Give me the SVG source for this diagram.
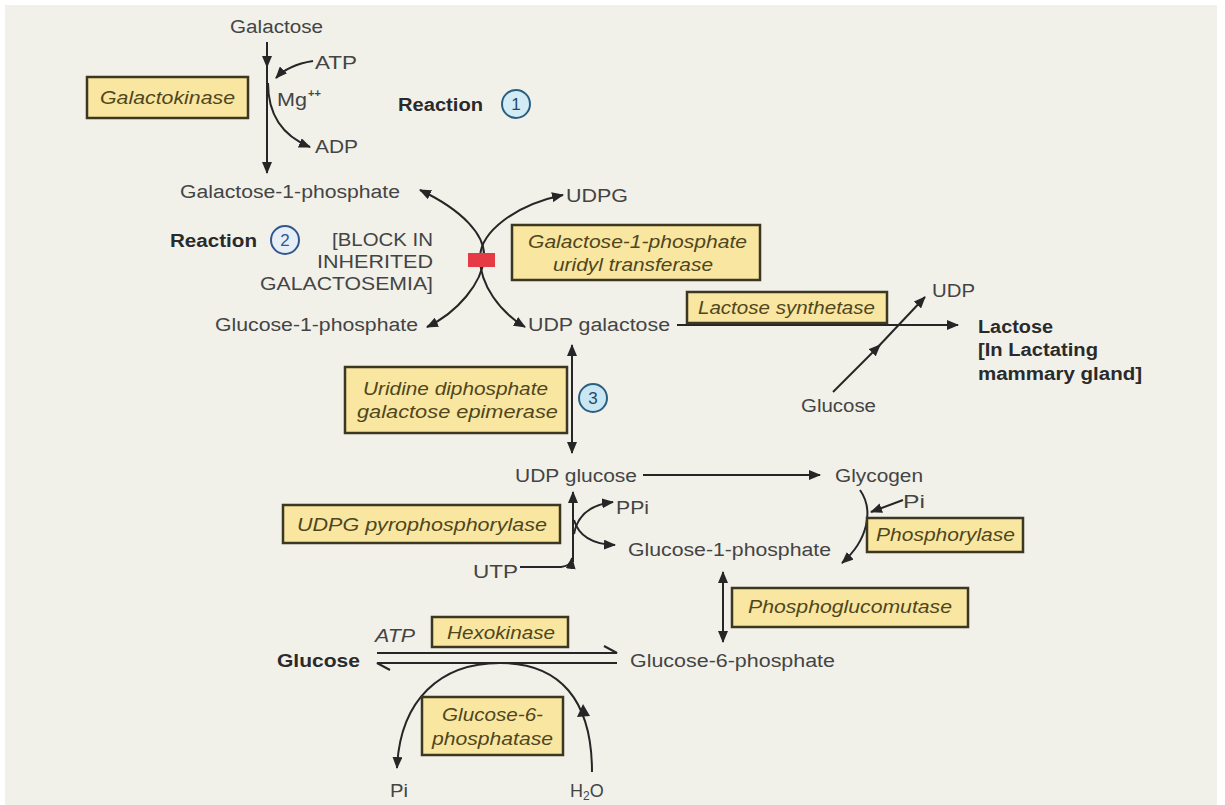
<svg xmlns="http://www.w3.org/2000/svg" width="1225" height="805" viewBox="0 0 1225 805">
<defs>
<style>
.t{font-family:"Liberation Sans",Arial,sans-serif;font-size:18px;fill:#444444}
.b{font-weight:bold;fill:#2a2a2a}
.e{font-style:italic;fill:#4f4620;font-size:18px}
.box{fill:#f9e6a0;stroke:#3c3720;stroke-width:2.5}
.ln{fill:none;stroke:#262626;stroke-width:2}
.c{stroke-width:2}
.n{font-family:"Liberation Sans",Arial,sans-serif;font-size:17px;fill:#1f4a66;text-anchor:middle}
</style>
<marker id="ah" viewBox="0 0 12 10" refX="11" refY="5" markerWidth="12" markerHeight="10" markerUnits="userSpaceOnUse" orient="auto-start-reverse">
<path d="M0,0 L12,5 L0,10 z" fill="#262626"/>
</marker>
</defs>
<rect x="0" y="0" width="1225" height="805" fill="#ffffff"/>
<rect x="5" y="5" width="1212" height="800" fill="#f1f1ea"/>

<g id="connectors">
<path class="ln" d="M267 42 L267 67" marker-end="url(#ah)"/>
<path class="ln" d="M267 62 L267 173" marker-end="url(#ah)"/>
<path class="ln" d="M313 61 Q288 65 276 78" marker-end="url(#ah)"/>
<path class="ln" d="M268 83 Q268 130 310 147" marker-end="url(#ah)"/>
<path class="ln" d="M420 190 C462 210 486 235 484 258 C482 283 458 312 427 327" marker-start="url(#ah)" marker-end="url(#ah)"/>
<path class="ln" d="M563 195 C515 205 480 232 480 258 C480 285 500 312 525 327" marker-start="url(#ah)" marker-end="url(#ah)"/>
<rect x="468" y="253" width="27" height="14" fill="#e63a44"/>
<path class="ln" d="M677 325 L958 325" marker-end="url(#ah)"/>
<path class="ln" d="M833 392 L880 345" marker-end="url(#ah)"/>
<path class="ln" d="M876 349 L925 297" marker-end="url(#ah)"/>
<path class="ln" d="M572 345 L572 453" marker-start="url(#ah)" marker-end="url(#ah)"/>
<path class="ln" d="M643 475 L820 475" marker-end="url(#ah)"/>
<path class="ln" d="M573 562 L573 492" marker-end="url(#ah)"/>
<path class="ln" d="M520 567 L561 567 Q571 566 572 558" marker-end="url(#ah)"/>
<path class="ln" d="M574 534 Q579 506 613 502" marker-end="url(#ah)"/>
<path class="ln" d="M574 520 Q581 544 615 545" marker-end="url(#ah)"/>
<path class="ln" d="M860 490 C874 510 868 540 842 563" marker-end="url(#ah)"/>
<path class="ln" d="M903 500 L871 512" marker-end="url(#ah)"/>
<path class="ln" d="M723 572 L723 642" marker-start="url(#ah)" marker-end="url(#ah)"/>
<path class="ln" d="M377 653 L617 653 L604 646"/>
<path class="ln" d="M617 663 L377 663 L390 670"/>
<path class="ln" d="M592 772 C592 700 560 663 500 663 C440 663 400 700 397 768" marker-end="url(#ah)"/>
<path d="M583 704 L577 717 L590 716 z" fill="#262626"/>
</g>

<g id="galactose"><text class="t" x="230" y="33" textLength="93" lengthAdjust="spacingAndGlyphs">Galactose</text></g>
<g id="atp1"><text class="t" x="315" y="69" textLength="42" lengthAdjust="spacingAndGlyphs">ATP</text></g>
<g id="mg"><text class="t" x="277" y="106" textLength="30" lengthAdjust="spacingAndGlyphs">Mg</text><text class="t" x="308" y="97" style="font-size:11px;font-weight:bold">++</text></g>
<g id="adp"><text class="t" x="315" y="153" textLength="43" lengthAdjust="spacingAndGlyphs">ADP</text></g>
<g id="galactokinase"><rect class="box" x="87" y="77" width="161" height="41"/><text class="t e" x="100" y="104" textLength="135" lengthAdjust="spacingAndGlyphs">Galactokinase</text></g>
<g id="reaction1"><text class="t b" x="398" y="111" textLength="85" lengthAdjust="spacingAndGlyphs">Reaction</text><circle class="c" cx="516" cy="104" r="14" fill="#d3ebf5" stroke="#2b5f80"/><text class="n" x="516" y="110">1</text></g>
<g id="gal1p"><text class="t" x="180" y="198" textLength="220" lengthAdjust="spacingAndGlyphs">Galactose-1-phosphate</text></g>
<g id="udpg"><text class="t" x="566" y="202" textLength="62" lengthAdjust="spacingAndGlyphs">UDPG</text></g>
<g id="reaction2"><text class="t b" x="170" y="247" textLength="87" lengthAdjust="spacingAndGlyphs">Reaction</text><circle class="c" cx="285" cy="240" r="14" fill="#e6eef6" stroke="#34558e"/><text class="n" x="285" y="246" style="fill:#34558e">2</text></g>
<g id="block"><text class="t" x="332" y="246" textLength="101" lengthAdjust="spacingAndGlyphs">[BLOCK IN</text><text class="t" x="317" y="268" textLength="116" lengthAdjust="spacingAndGlyphs">INHERITED</text><text class="t" x="260" y="290" textLength="173" lengthAdjust="spacingAndGlyphs">GALACTOSEMIA]</text></g>
<g id="transferase"><rect class="box" x="512" y="225" width="248" height="55"/><text class="t e" x="528" y="248" textLength="219" lengthAdjust="spacingAndGlyphs">Galactose-1-phosphate</text><text class="t e" x="553" y="271" textLength="160" lengthAdjust="spacingAndGlyphs">uridyl transferase</text></g>
<g id="glc1p-a"><text class="t" x="215" y="331" textLength="203" lengthAdjust="spacingAndGlyphs">Glucose-1-phosphate</text></g>
<g id="udpgal"><text class="t" x="528" y="331" textLength="142" lengthAdjust="spacingAndGlyphs">UDP galactose</text></g>
<g id="lactosesynthetase"><rect class="box" x="687" y="292" width="200" height="31"/><text class="t e" x="698" y="314" textLength="177" lengthAdjust="spacingAndGlyphs">Lactose synthetase</text></g>
<g id="udp"><text class="t" x="932" y="297" textLength="43" lengthAdjust="spacingAndGlyphs">UDP</text></g>
<g id="lactose"><text class="t b" x="978" y="333" textLength="75" lengthAdjust="spacingAndGlyphs">Lactose</text><text class="t b" x="978" y="356" textLength="120" lengthAdjust="spacingAndGlyphs">[In Lactating</text><text class="t b" x="978" y="380" textLength="164" lengthAdjust="spacingAndGlyphs">mammary gland]</text></g>
<g id="glucose-a"><text class="t" x="801" y="412" textLength="75" lengthAdjust="spacingAndGlyphs">Glucose</text></g>
<g id="epimerase"><rect class="box" x="345" y="367" width="222" height="66"/><text class="t e" x="363" y="395" textLength="185" lengthAdjust="spacingAndGlyphs">Uridine diphosphate</text><text class="t e" x="357" y="418" textLength="201" lengthAdjust="spacingAndGlyphs">galactose epimerase</text></g>
<g id="reaction3"><circle class="c" cx="593" cy="398" r="14" fill="#c9e6f2" stroke="#2b5f80"/><text class="n" x="593" y="404">3</text></g>
<g id="udpglucose"><text class="t" x="515" y="482" textLength="122" lengthAdjust="spacingAndGlyphs">UDP glucose</text></g>
<g id="glycogen"><text class="t" x="835" y="482" textLength="88" lengthAdjust="spacingAndGlyphs">Glycogen</text></g>
<g id="pyrophosphorylase"><rect class="box" x="283" y="505" width="277" height="38"/><text class="t e" x="297" y="531" textLength="250" lengthAdjust="spacingAndGlyphs">UDPG pyrophosphorylase</text></g>
<g id="ppi"><text class="t" x="616" y="514" textLength="33" lengthAdjust="spacingAndGlyphs">PPi</text></g>
<g id="glc1p-b"><text class="t" x="628" y="556" textLength="203" lengthAdjust="spacingAndGlyphs">Glucose-1-phosphate</text></g>
<g id="utp"><text class="t" x="473" y="578" textLength="45" lengthAdjust="spacingAndGlyphs">UTP</text></g>
<g id="pi-a"><text class="t" x="903" y="508" textLength="22" lengthAdjust="spacingAndGlyphs">Pi</text></g>
<g id="phosphorylase"><rect class="box" x="867" y="518" width="156" height="34"/><text class="t e" x="876" y="541" textLength="139" lengthAdjust="spacingAndGlyphs">Phosphorylase</text></g>
<g id="phosphoglucomutase"><rect class="box" x="732" y="588" width="236" height="39"/><text class="t e" x="748" y="613" textLength="204" lengthAdjust="spacingAndGlyphs">Phosphoglucomutase</text></g>
<g id="atp2"><text class="t e" x="375" y="642" textLength="40" lengthAdjust="spacingAndGlyphs" style="fill:#444444">ATP</text></g>
<g id="hexokinase"><rect class="box" x="432" y="617" width="136" height="30"/><text class="t e" x="447" y="639" textLength="108" lengthAdjust="spacingAndGlyphs">Hexokinase</text></g>
<g id="glucose-b"><text class="t b" x="277" y="667" textLength="83" lengthAdjust="spacingAndGlyphs">Glucose</text></g>
<g id="glc6p"><text class="t" x="630" y="667" textLength="205" lengthAdjust="spacingAndGlyphs">Glucose-6-phosphate</text></g>
<g id="glucose6phosphatase"><rect class="box" x="422" y="697" width="141" height="58"/><text class="t e" x="442" y="721" textLength="101" lengthAdjust="spacingAndGlyphs">Glucose-6-</text><text class="t e" x="432" y="745" textLength="121" lengthAdjust="spacingAndGlyphs">phosphatase</text></g>
<g id="pi-b"><text class="t" x="390" y="797" textLength="18" lengthAdjust="spacingAndGlyphs">Pi</text></g>
<g id="h2o"><text class="t" x="570" y="797">H<tspan style="font-size:12px" dy="3">2</tspan><tspan dy="-3">O</tspan></text></g>
</svg>
